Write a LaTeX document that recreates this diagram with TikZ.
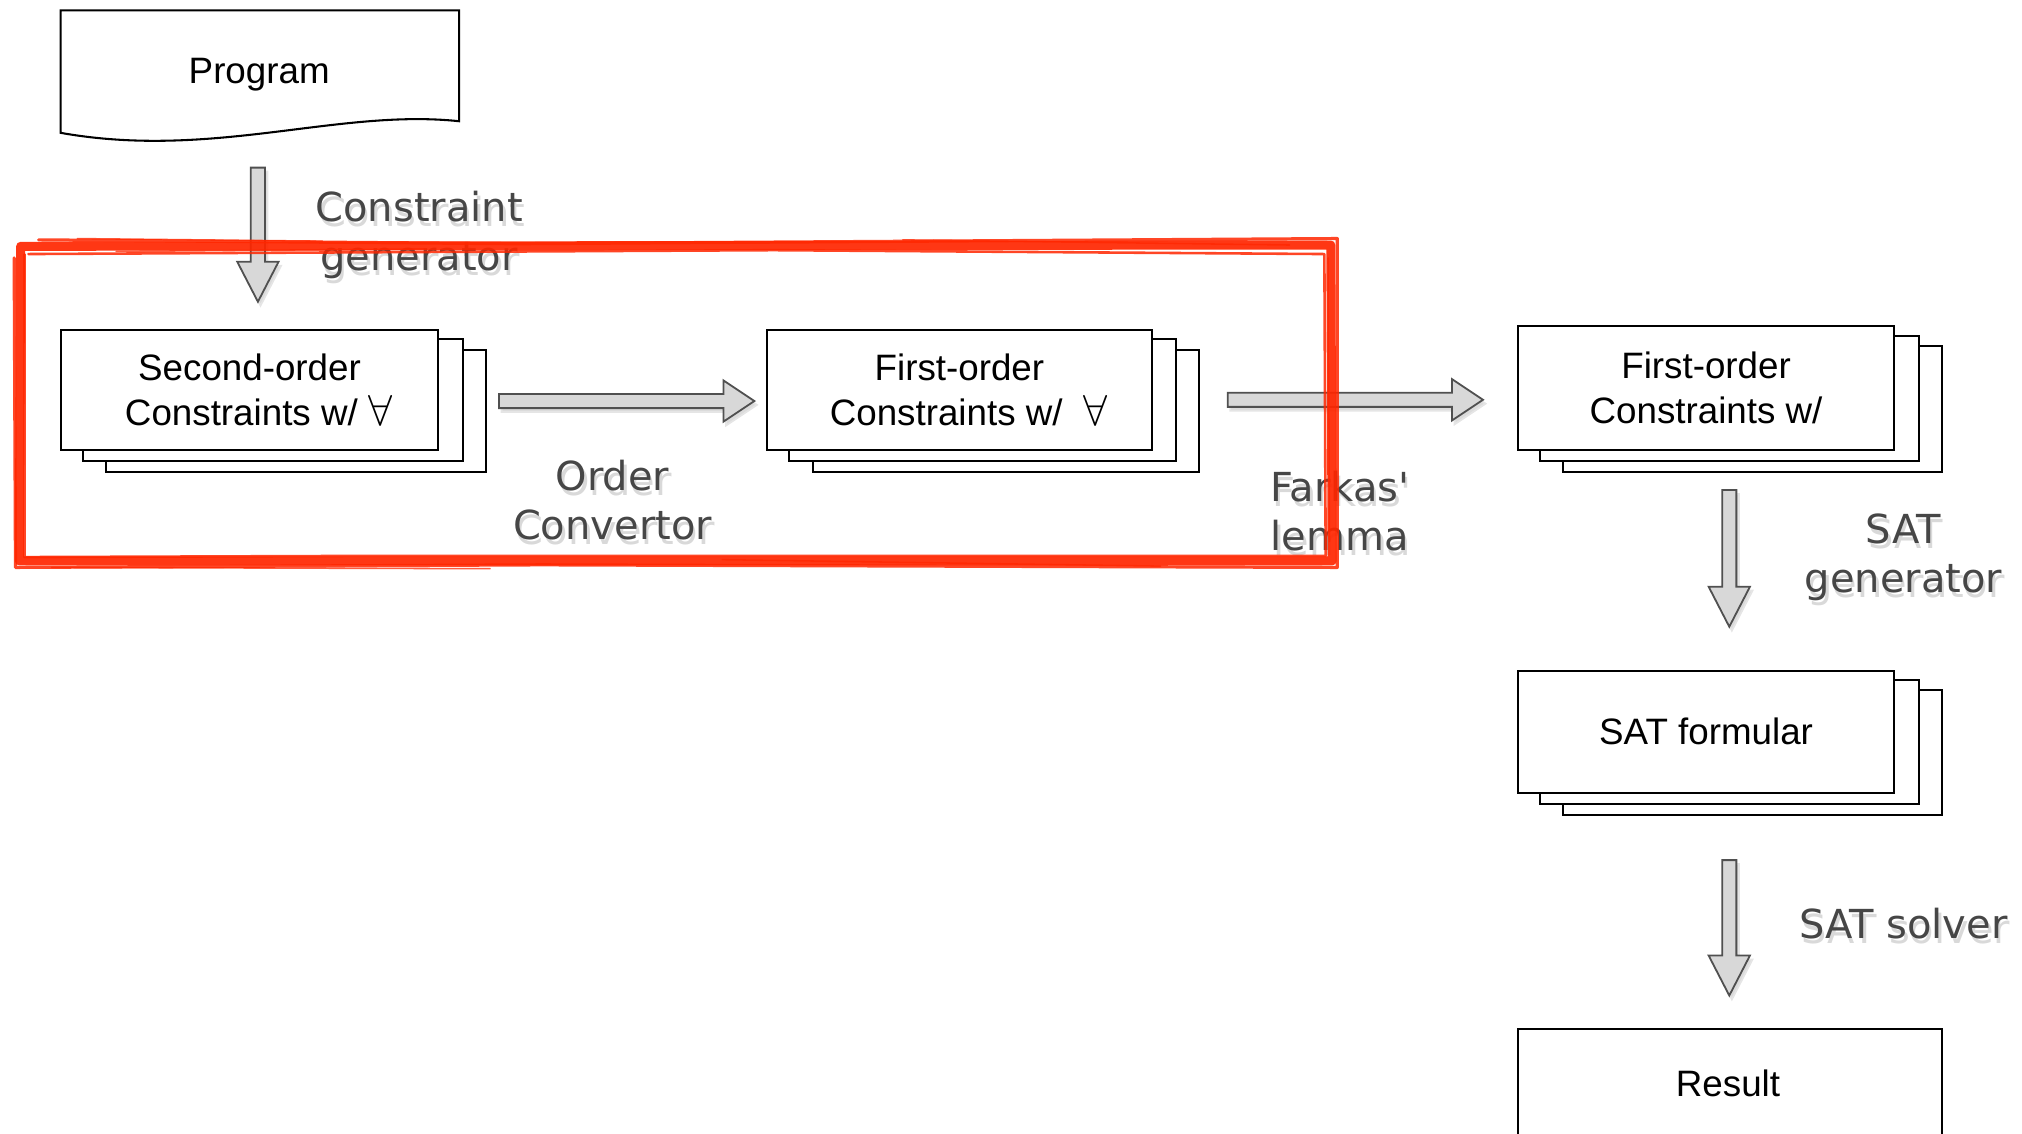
\documentclass[tikz,border=0pt]{standalone}
\usepackage{fontspec}
\setmainfont{Liberation Sans}
\newfontfamily\lblfont{DejaVu Sans}
\usetikzlibrary{calc,backgrounds}
\definecolor{sketchred}{RGB}{255,38,0}
\definecolor{arrowfill}{RGB}{216,216,216}
\definecolor{arrowline}{RGB}{80,80,80}
\definecolor{lblgray}{RGB}{70,70,70}

\newcommand\hblk[2]{%
  \path[blk] ($(#1)+(0,-5.5)$) -- ($(#2)+(-24,-5.5)$) -- ($(#2)+(-24,-16)$) -- (#2)
    -- ($(#2)+(-24,16)$) -- ($(#2)+(-24,5.5)$) -- ($(#1)+(0,5.5)$) -- cycle;}
\newcommand\vblk[2]{%
  \path[blk] ($(#1)+(-5.5,0)$) -- ($(#2)+(-5.5,-31)$) -- ($(#2)+(-16,-31)$) -- (#2)
    -- ($(#2)+(16,-31)$) -- ($(#2)+(5.5,-31)$) -- ($(#1)+(5.5,0)$) -- cycle;}
\newcommand\forallsym{\scalebox{1.35}{$\forall$}}

\begin{document}
\begin{tikzpicture}[x=1pt,y=-1pt,
  boxline/.style={draw=black, line width=1.6pt},
  boxtxt/.style={font=\fontsize{28.5}{35}\selectfont, align=center, text=black},
  frontbox/.style={boxline, fill=white, boxtxt},
  blk/.style={draw=arrowline, line width=1.4pt, fill=arrowfill, line join=miter,
    preaction={fill=black!14, draw=black!10, line width=1.4pt,
      transform canvas={shift={(2pt,-3pt)}}}},
  lbl/.style={font=\lblfont\fontsize{31}{38}\selectfont, align=center, text=lblgray},
  lblsh/.style={lbl, text=black!15},
]
\useasboundingbox (0,0) rectangle (1568,879);

% ---------- Program ----------
\draw[boxline, fill=white] (47,8) -- (356,8) -- (356,94)
  .. controls (262,84) and (165,124) .. (47,103) -- cycle;
\node[boxtxt] (prog) at (201,58) {Program};

% ---------- stacked boxes ----------
\node[frontbox, minimum width=293pt, minimum height=93pt] (sec) at (193.5,302.5)
  {Second-order\\\hspace*{14pt}Constraints w/ \forallsym};
\node[frontbox, minimum width=298pt, minimum height=93pt] (fo) at (744,302.5)
  {First-order\\\hspace*{14pt}Constraints w/ \ \forallsym};
\node[frontbox, minimum width=292pt, minimum height=96pt] (fo2) at (1323,301)
  {First-order\\Constraints w/};
\node[frontbox, minimum width=292pt, minimum height=95pt] (sat) at (1323,567.5)
  {SAT formular};
\begin{scope}[on background layer]
  \foreach \n in {sec,fo,fo2,sat}{
    \draw[boxline, fill=white] ($(\n.north west)+(36,16)$) rectangle ($(\n.south east)+(36,16)$);
    \draw[boxline, fill=white] ($(\n.north west)+(18,8)$) rectangle ($(\n.south east)+(18,8)$);
  }
\end{scope}

% ---------- Result ----------
\node[boxline, fill=white, minimum width=329pt, minimum height=100pt] (res) at (1341.5,848) {};
\node[boxtxt] (restxt) at (1340,840) {Result};

% ---------- block arrows ----------
\coordinate (a1s) at (200,130);  \coordinate (a1e) at (200,234);
\coordinate (a2s) at (387,311);  \coordinate (a2e) at (585,311);
\coordinate (a3s) at (952,310);  \coordinate (a3e) at (1150,310);
\coordinate (a4s) at (1341,380); \coordinate (a4e) at (1341,486);
\coordinate (a5s) at (1341,667); \coordinate (a5e) at (1341,772);
\vblk{a1s}{a1e}
\hblk{a2s}{a2e}
\hblk{a3s}{a3e}
\vblk{a4s}{a4e}
\vblk{a5s}{a5e}

% ---------- labels ----------
\node[lblsh] (cgs) at (327,186) {Constraint\\generator};
\node[lbl]   (cg)  at (325,182) {Constraint\\generator};
\node[lblsh] (ocs) at (477,392) {Order\\Convertor};
\node[lbl]   (oc)  at (475,388) {Order\\Convertor};
\node[lblsh] (fls) at (1041,400) {Farkas'\\lemma};
\node[lbl]   (fl)  at (1039,396) {Farkas'\\lemma};
\node[lblsh] (sgs) at (1478,436) {SAT\\generator};
\node[lbl]   (sg)  at (1476,432) {SAT\\generator};
\node[lblsh] (sss) at (1478,720) {SAT solver};
\node[lbl]   (ss)  at (1476,716) {SAT solver};

% ---------- sketchy red frame ----------
\begin{scope}[sketchred, line cap=round, line join=round]
  \draw[line width=7pt, opacity=.92] (16,191) -- (1032,190) -- (1033,435) -- (15,435) -- cycle;
  \draw[line width=2.5pt, opacity=.85] (30,186) -- (400,189) -- (1037,185) -- (1037,440) -- (420,438) -- (12,440) -- (11,200);
  \draw[line width=2pt, opacity=.85] (22,197) -- (600,194) -- (1027,197) -- (1028,431) -- (300,431) -- (19,432) -- (19,197);
  \draw[line width=1.2pt, opacity=.75] (60,185) -- (250,187) (90,195) -- (330,193) (700,186) -- (1000,190);
  \draw[line width=1.2pt, opacity=.75] (40,440) -- (380,441) (560,434) -- (900,439) (1030,200) -- (1031,420);
\end{scope}
\end{tikzpicture}
\end{document}
